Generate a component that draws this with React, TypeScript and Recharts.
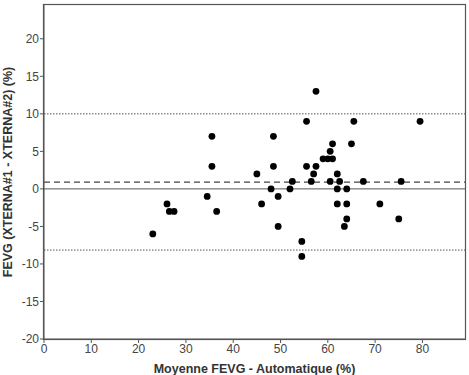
import {
  ScatterChart,
  Scatter,
  XAxis,
  YAxis,
  ReferenceLine,
} from 'recharts';

// mean of the two measures (x) and difference XTERNA#1 - XTERNA#2 (y)
const meanFevg = [
  23, 26, 26.5, 27.5, 34.5, 35.5, 35.5, 36.5, 45, 46, 48, 48.5, 48.5, 49.5,
  49.5, 52, 52.5, 54.5, 54.5, 55.5, 55.5, 56.5, 57, 57.5, 57.5, 59, 60, 60.5,
  60.5, 61, 61, 62, 62, 62, 62.5, 63.5, 64, 64, 64, 65, 65.5, 67.5, 71, 75,
  75.5, 79.5,
];
const diffFevg = [
  -6, -2, -3, -3, -1, 7, 3, -3, 2, -2, 0, 7, 3, -1, -5, 0, 1, -7, -9, 9, 3, 1,
  2, 13, 3, 4, 4, 5, 1, 6, 4, 2, 0, -2, 1, -5, 0, -2, -4, 6, 9, 1, -2, -4, 1, 9,
];

const meanDiff = 0.9;
const upperLoa = 10;
const lowerLoa = -8.15;

const xTicks = [0, 10, 20, 30, 40, 50, 60, 70, 80];
const yTicks = [-20, -15, -10, -5, 0, 5, 10, 15, 20];
const xDomain = [0, 89];
const yDomain = [-20, 24.5];

const xTitle = 'Moyenne FEVG - Automatique (%)';
const yTitle = 'FEVG (XTERNA#1 - XTERNA#2) (%)';

const data = meanFevg.map((x, i) => ({ x, y: diffFevg[i] }));

const W = 469;
const H = 375;
const M = { top: 5, right: 4, bottom: 0, left: 0 };
const Y_W = 44;
const X_H = 36;

const FONT = '"Liberation Sans", Arial, sans-serif';
const tickStyle = { fontSize: 12, fill: '#444', fontFamily: FONT };
const titleStyle: React.CSSProperties = {
  fontSize: 12.5,
  fontWeight: 'bold',
  fill: '#333',
  fontFamily: FONT,
};

function Dot(props: any) {
  const { cx, cy } = props;
  return <circle cx={cx} cy={cy} r={3.4} fill="#000" />;
}

export default function App() {
  const plotL = M.left + Y_W;
  const plotT = M.top;
  const plotR = W - M.right;
  const plotB = H - M.bottom - X_H;
  const midX = (plotL + plotR) / 2;
  const midY = (plotT + plotB) / 2;

  return (
    <div style={{ position: 'absolute', left: 0, top: 0, background: '#fff', width: W, height: H }}>
      <ScatterChart width={W} height={H} margin={M}>
        <XAxis
          type="number"
          dataKey="x"
          domain={xDomain}
          ticks={xTicks}
          height={X_H}
          stroke="#555"
          tickSize={4}
          tick={tickStyle}
          tickMargin={1}
          interval={0}
        />
        <YAxis
          type="number"
          dataKey="y"
          domain={yDomain}
          ticks={yTicks}
          width={Y_W}
          stroke="#555"
          tickSize={4}
          tick={tickStyle}
          tickMargin={1}
          interval={0}
        />
        <ReferenceLine y={0} stroke="#555" strokeWidth={1} />
        <ReferenceLine y={meanDiff} stroke="#444" strokeWidth={1.2} strokeDasharray="6 4" />
        <ReferenceLine y={upperLoa} stroke="#555" strokeWidth={1} strokeDasharray="1.5 1.5" />
        <ReferenceLine y={lowerLoa} stroke="#555" strokeWidth={1} strokeDasharray="1.5 1.5" />
        <Scatter data={data} shape={<Dot />} isAnimationActive={false} />
      </ScatterChart>
      {/* frame + axis titles */}
      <svg
        width={W}
        height={H}
        style={{ position: 'absolute', left: 0, top: 0, zIndex: 5, pointerEvents: 'none' }}
      >
        <rect
          x={plotL - 0.5}
          y={plotT - 0.5}
          width={plotR - plotL + 1}
          height={plotB - plotT + 1}
          fill="none"
          stroke="#555"
          strokeWidth={1.2}
        />
        <text x={midX} y={H - 6} textAnchor="middle" dominantBaseline="central" style={titleStyle}>
          {xTitle}
        </text>
        <text
          x={8}
          y={midY}
          transform={`rotate(-90 8 ${midY})`}
          textAnchor="middle"
          dominantBaseline="central"
          style={titleStyle}
        >
          {yTitle}
        </text>
      </svg>
    </div>
  );
}
